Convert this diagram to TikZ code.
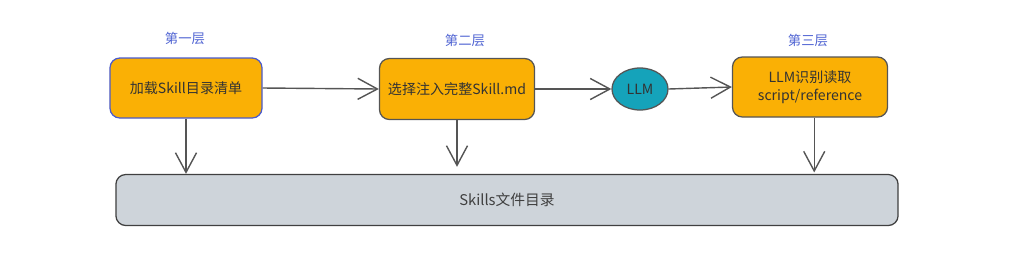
\documentclass[tikz,border=0pt]{standalone}
\usepackage{fontspec}
\setmainfont{Noto Sans CJK SC}
\usepackage{xcolor}
\usepackage{tikz}
\usetikzlibrary{arrows.meta, positioning, shapes.geometric}

\definecolor{boxorange}{HTML}{FAB005}
\definecolor{llmteal}{HTML}{15A3BA}
\definecolor{bargray}{HTML}{CED4DA}
\definecolor{edgegray}{HTML}{555555}
\definecolor{layerblue}{HTML}{4F63D2}
\definecolor{framblue}{HTML}{4A5ACC}

\begin{document}
\begin{tikzpicture}[x=0.025cm, y=-0.025cm,
    flow/.style={-{Straight Barb[length=14pt, width=15pt]}, line width=1pt, edgegray},
    stepbox/.style={draw=edgegray, line width=0.9pt, fill=boxorange, rounded corners=7pt,
        minimum width=3.875cm, minimum height=1.5cm, align=center, font=\fontsize{10}{13}\selectfont, text=black!80},
    layer/.style={text=layerblue, font=\fontsize{9.5}{11}\selectfont}]

    % =================================================================
    % 1. KHUNG HÌNH
    % =================================================================
    \useasboundingbox (0,0) rectangle (1031,253);

    % =================================================================
    % 2. CÁC KHỐI CHÍNH
    % =================================================================
    \node[stepbox, draw=framblue, minimum width=3.8cm] (load) at (186,88) {加载Skill目录清单};
    \node[stepbox, minimum height=1.525cm] (inject) at (457,89) {选择注入完整Skill.md};
    \node[ellipse, draw=edgegray, line width=0.9pt, fill=llmteal, minimum width=1.4cm,
        minimum height=1.05cm, font=\fontsize{10}{12}\selectfont, text=black!80] (llm) at (640,89) {LLM};
    \node[stepbox] (read) at (810,87) {LLM识别读取\\script/reference};

    % Thư mục Skills phía dưới
    \node[draw=black!75, line width=0.9pt, fill=bargray, rounded corners=7pt, minimum width=19.55cm,
        minimum height=1.275cm, font=\fontsize{10.5}{12}\selectfont, text=black!75] (dir) at (507,200) {Skills文件目录};

    % =================================================================
    % 3. NHÃN CÁC TẦNG
    % =================================================================
    \node[layer] (layer1) at (185,38) {第一层};
    \node[layer] (layer2) at (465,40) {第二层};
    \node[layer] (layer3) at (808,40) {第三层};

    % =================================================================
    % 4. MŨI TÊN
    % =================================================================
    \draw[flow] (load.east) -- (inject.west);
    \draw[flow] (inject.east) -- (llm.west);
    \draw[flow] (llm.east) -- (read.west);

    \draw[flow] (load.south) -- (load.south |- dir.north);
    \draw[flow, shorten >=5pt] (inject.south) -- (inject.south |- dir.north);
    \draw[flow, shorten >=1pt] ([xshift=3pt]read.south) -- ([xshift=3pt]read.south |- dir.north);

\end{tikzpicture}
\end{document}
